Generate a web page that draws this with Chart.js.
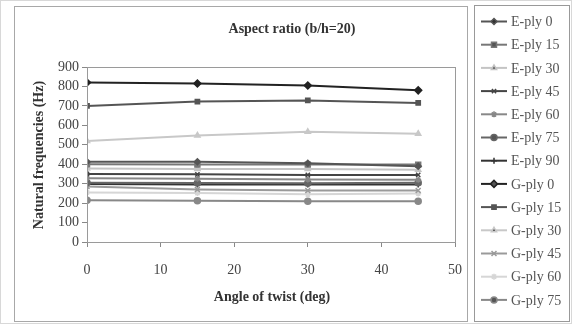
<!DOCTYPE html>
<html><head><meta charset="utf-8">
<script src="https://cdn.jsdelivr.net/npm/chart.js@4/dist/chart.umd.min.js"></script>
<style>html,body{margin:0;padding:0;background:#fff}canvas{display:block}</style>
</head><body>
<canvas id="c" width="572" height="324"></canvas>
<script>
const angles = [0, 15, 30, 45];
const seriesNames = ["E-ply 0","E-ply 15","E-ply 30","E-ply 45","E-ply 60","E-ply 75","E-ply 90","G-ply 0","G-ply 15","G-ply 30","G-ply 45","G-ply 60","G-ply 75"];
const ePly0  = [413, 413, 405, 390];
const ePly15 = [400, 398, 398, 398];
const ePly30 = [378, 375, 375, 372];
const ePly45 = [350, 348, 345, 345];
const ePly60 = [328, 325, 322, 320];
const ePly75 = [305, 303, 302, 305];
const ePly90 = [298, 296, 296, 296];
const gPly0  = [820, 815, 805, 780];
const gPly15 = [700, 722, 728, 715];
const gPly30 = [520, 548, 567, 557];
const gPly45 = [285, 270, 265, 265];
const gPly60 = [255, 252, 245, 250];
const gPly75 = [215, 212, 210, 210];
const seriesValues = [ePly0, ePly15, ePly30, ePly45, ePly60, ePly75, ePly90, gPly0, gPly15, gPly30, gPly45, gPly60, gPly75];
const yTicks = [0,100,200,300,400,500,600,700,800,900];
const xTicks = [0,10,20,30,40,50];

const styles = [
  {c:'#555', p:'rectRot', r:3},
  {c:'#777', p:'rect', r:3.5},
  {c:'#c4c4c4', p:'triangle', r:3},
  {c:'#444', p:'crossRot', r:3},
  {c:'#888', p:'star', r:3},
  {c:'#666', p:'circle', r:3},
  {c:'#333', p:'cross', r:3},
  {c:'#222', p:'rectRot', r:3.5},
  {c:'#555', p:'rect', r:3},
  {c:'#c8c8c8', p:'triangle', r:3},
  {c:'#9a9a9a', p:'crossRot', r:3.5},
  {c:'#d6d6d6', p:'star', r:3},
  {c:'#888', p:'circle', r:3}
];

const datasets = seriesNames.map((n,i)=>({
  label:n,
  data: angles.map((a,j)=>({x:a, y:seriesValues[i][j]})),
  borderColor: styles[i].c,
  backgroundColor: styles[i].c,
  pointStyle: styles[i].p,
  pointRadius: styles[i].r,
  pointBorderWidth: 1.5,
  borderWidth: 2,
  tension: 0
}));

const serif = "'Liberation Serif', 'DejaVu Serif', serif";

const deco = {
  id:'deco',
  beforeDraw(chart){
    const ctx = chart.ctx;
    ctx.save();
    ctx.fillStyle='#fff';
    ctx.fillRect(0,0,572,324);
    ctx.strokeStyle='#d8d8d8';
    ctx.lineWidth=1;
    ctx.strokeRect(0.5,0.5,571,323);
    ctx.strokeStyle='#a8a8a8';
    ctx.strokeRect(14.5,6.5,453,315);
    ctx.restore();
  },
  afterDraw(chart){
    const ctx = chart.ctx;
    const a = chart.chartArea;
    ctx.save();
    ctx.strokeStyle='#9a9a9a';
    ctx.lineWidth=1;
    ctx.strokeRect(Math.round(a.left)+0.5, Math.round(a.top)+0.5, Math.round(a.right-a.left), Math.round(a.bottom-a.top));
    ctx.fillStyle='#333';
    ctx.textAlign='center';
    ctx.textBaseline='middle';
    ctx.font="bold 14px "+serif;
    ctx.fillText("Aspect ratio (b/h=20)", 292, 29);
    ctx.fillText("Angle of twist (deg)", 272, 297);
    ctx.save();
    ctx.translate(39, 155);
    ctx.rotate(-Math.PI/2);
    ctx.fillText("Natural frequencies (Hz)", 0, 0);
    ctx.restore();
    // legend
    ctx.strokeStyle='#999';
    ctx.strokeRect(474.5, 5.5, 95, 316);
    ctx.font="14px "+serif;
    ctx.textAlign='left';
    chart.data.datasets.forEach((ds,i)=>{
      const y = 21.5 + i*23.2;
      ctx.strokeStyle=ds.borderColor;
      ctx.lineWidth=2;
      ctx.beginPath(); ctx.moveTo(481,y); ctx.lineTo(507,y); ctx.stroke();
      ctx.lineWidth=1.5;
      Chart.helpers.drawPoint(ctx,{pointStyle:ds.pointStyle, radius:ds.pointRadius, rotation:0, borderWidth:1.5}, 494, y);
      ctx.fillStyle='#555';
      ctx.fillText(ds.label, 511, y+1);
    });
    ctx.restore();
  }
};

new Chart(document.getElementById('c'), {
  type:'line',
  data:{datasets},
  plugins:[deco],
  options:{
    responsive:false,
    animation:false,
    devicePixelRatio:1,
    layout:{padding:{left:14, top:67, right:117, bottom:0}},
    plugins:{legend:{display:false}, title:{display:false}, tooltip:{enabled:false}},
    scales:{
      x:{
        type:'linear', min:0, max:50,
        afterBuildTicks(s){ s.ticks = xTicks.map(v=>({value:v})); },
        afterFit(s){ s.height = 82; },
        grid:{drawOnChartArea:false, tickLength:5, color:'#888'},
        border:{color:'#888'},
        ticks:{padding:15, autoSkip:false, maxRotation:0, color:'#444', font:{family:serif, size:14}}
      },
      y:{
        min:0, max:900,
        afterBuildTicks(s){ s.ticks = yTicks.map(v=>({value:v})); },
        afterFit(s){ s.width = 73; },
        grid:{drawOnChartArea:false, tickLength:5, color:'#888'},
        border:{color:'#888'},
        ticks:{padding:3, autoSkip:false, color:'#444', font:{family:serif, size:14}}
      }
    }
  }
});
</script>
</body></html>
